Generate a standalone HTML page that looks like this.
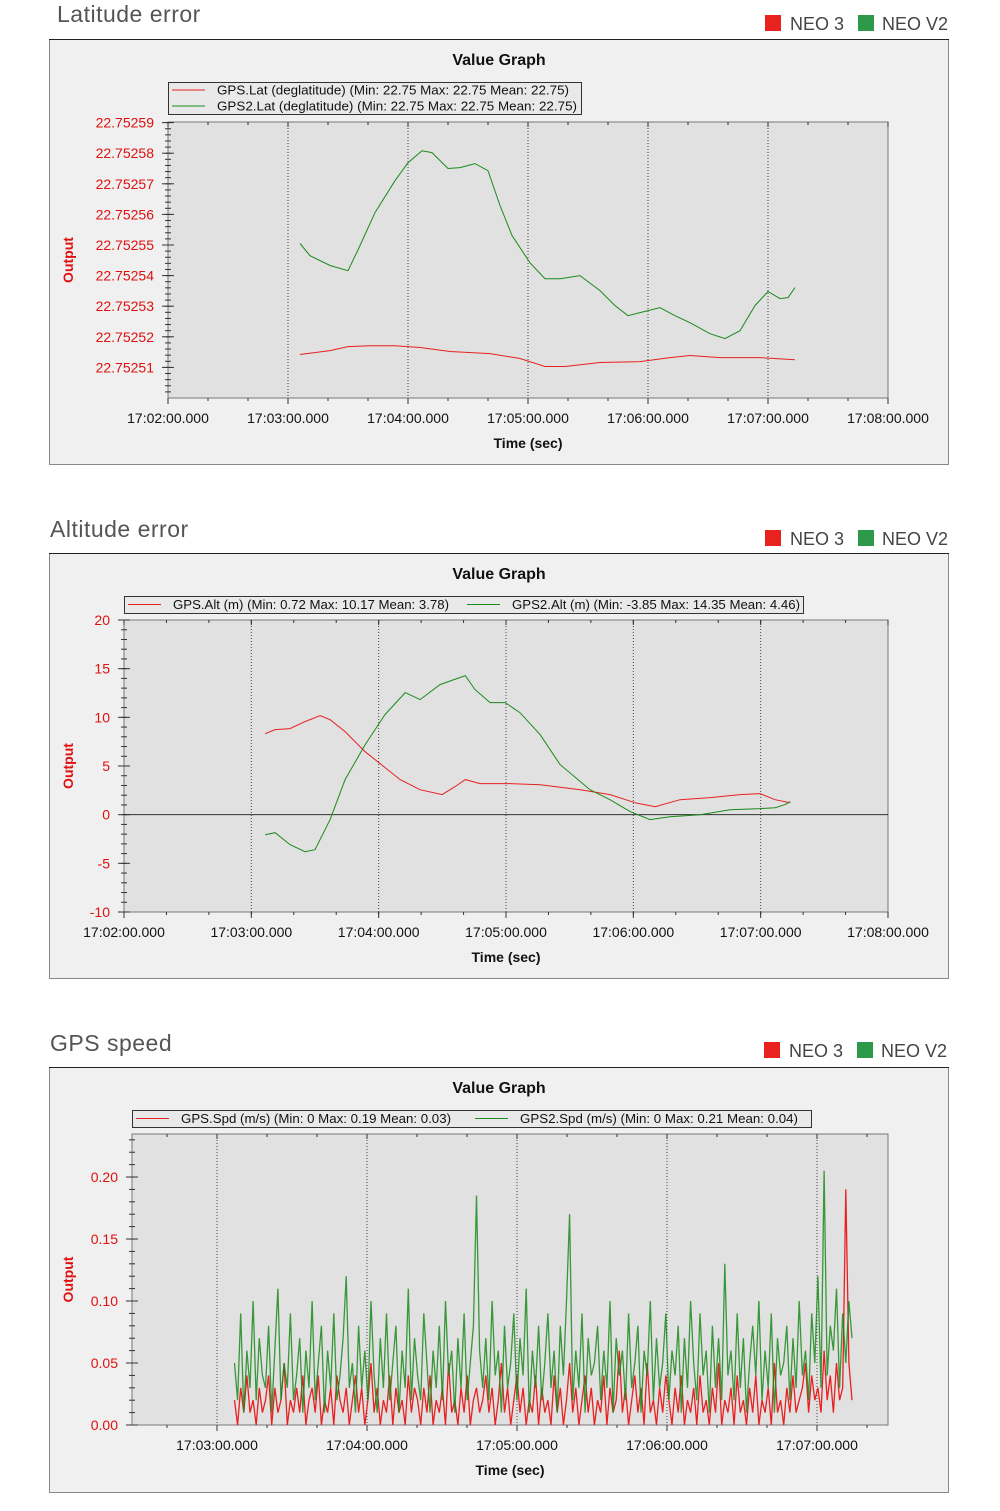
<!DOCTYPE html>
<html><head><meta charset="utf-8">
<style>
html,body{margin:0;padding:0;background:#fff;}
svg{display:block;font-family:"Liberation Sans",Arial,sans-serif;}
</style></head>
<body>
<svg id="root" width="1000" height="1511" viewBox="0 0 1000 1511" xmlns="http://www.w3.org/2000/svg"></svg>
<script>
// ---------- Latitude chart data (time = seconds after 17:02:00) ----------
const latGreenT=[66,71,81,90,96,103.5,113.5,120,127,132,140,146,153.5,160,166,172,181,188.5,196,206,216,223.5,230,236,246,253.5,261,271,278.5,286,293.5,300,306,310,313.5];
const latGreenV=[22.7525505,22.7525465,22.7525433,22.7525416,22.7525498,22.7525606,22.752571,22.7525769,22.7525808,22.7525802,22.752575,22.7525753,22.7525766,22.7525743,22.7525629,22.7525531,22.7525442,22.752539,22.752539,22.75254,22.7525351,22.7525302,22.7525269,22.7525279,22.7525295,22.7525269,22.7525246,22.752521,22.7525194,22.752522,22.7525302,22.7525348,22.7525325,22.7525328,22.7525361];
const latRedT=[66,81,90,101,113.5,126,141,161,176,188.5,198.5,216,236,251,261,276,296,313.5];
const latRedV=[22.7525142,22.7525155,22.7525168,22.7525171,22.7525171,22.7525165,22.7525152,22.7525145,22.7525129,22.7525103,22.7525103,22.7525116,22.7525119,22.7525132,22.7525139,22.7525132,22.7525132,22.7525125];
const latTicks=["22.75251","22.75252","22.75253","22.75254","22.75255","22.75256","22.75257","22.75258","22.75259"];
const latXTicks=["17:02:00.000","17:03:00.000","17:04:00.000","17:05:00.000","17:06:00.000","17:07:00.000","17:08:00.000"];

// ---------- Altitude chart data ----------
const altRedT=[66.5,71.2,78.2,85.3,92.4,97.1,104.2,113.6,120.7,130.1,139.5,149.9,156,160.8,167.8,181.9,196.1,215,229,240.8,250.3,262,276.2,290.3,299.7,306.8,313.9];
const altRedV=[8.32,8.74,8.84,9.56,10.17,9.76,8.53,6.47,5.24,3.6,2.57,2.06,2.88,3.6,3.19,3.19,3.08,2.57,2.06,1.23,0.82,1.54,1.75,2.06,2.16,1.54,1.23];
const altGreenT=[66.5,71.2,78.2,85.3,90,97.1,104.2,113.6,123,132.5,139.5,148.9,160.8,165.4,172.5,179.6,186.6,196.1,205.5,219.6,229,238.5,247.9,257.3,271.5,285.6,299.7,306.8,311.5,313.9];
const altGreenV=[-2.06,-1.85,-3.08,-3.8,-3.6,-0.51,3.6,7.19,10.28,12.54,11.82,13.36,14.29,12.85,11.51,11.51,10.48,8.22,5.14,2.57,1.54,0.31,-0.51,-0.21,0,0.51,0.62,0.72,1.03,1.34];
const altTicks=["-10","-5","0","5","10","15","20"];
const altXTicks=["17:02:00.000","17:03:00.000","17:04:00.000","17:05:00.000","17:06:00.000","17:07:00.000","17:08:00.000"];

// ---------- Speed chart data (samples from 17:03:07 to 17:07:14) ----------
const spdStart=67, spdEnd=314;
const spdGreen=[
.05,.02,.09,.01,.06,.03,.10,.02,.07,.04,.03,.08,.01,.06,.11,.02,.05,.03,.09,.02,
.04,.07,.01,.06,.03,.10,.02,.05,.08,.01,.06,.03,.09,.02,.04,.07,.12,.03,.05,.01,
.08,.03,.06,.02,.10,.04,.01,.07,.03,.09,.02,.05,.08,.01,.06,.03,.11,.02,.07,.04,
.02,.09,.05,.01,.06,.03,.08,.02,.10,.04,.06,.01,.07,.03,.09,.02,.05,.08,.185,.06,
.03,.07,.02,.10,.04,.06,.01,.08,.03,.05,.09,.02,.07,.04,.11,.01,.06,.03,.08,.02,
.05,.09,.03,.06,.01,.08,.04,.10,.17,.02,.06,.03,.09,.01,.07,.04,.05,.08,.02,.06,
.03,.10,.01,.07,.04,.06,.02,.09,.03,.05,.08,.01,.06,.04,.10,.02,.07,.03,.05,.09,
.02,.06,.04,.08,.01,.07,.03,.10,.05,.02,.09,.04,.06,.01,.08,.03,.07,.02,.13,.04,
.06,.02,.09,.03,.07,.01,.05,.08,.04,.10,.02,.06,.03,.09,.01,.07,.04,.05,.08,.02,
.07,.03,.10,.04,.06,.02,.09,.05,.12,.03,.205,.04,.08,.06,.11,.03,.09,.05,.10,.07];
const spdRed=[
.02,.00,.03,.01,.04,.01,.02,.00,.03,.01,.02,.04,.00,.03,.01,.02,.05,.00,.02,.01,
.03,.01,.04,.00,.02,.03,.01,.04,.00,.02,.01,.03,.00,.04,.02,.01,.03,.00,.02,.04,
.01,.03,.00,.02,.05,.01,.03,.00,.02,.01,.04,.00,.03,.01,.02,.00,.04,.01,.03,.02,
.00,.03,.01,.04,.00,.02,.01,.03,.00,.05,.01,.02,.00,.03,.01,.04,.00,.02,.03,.01,
.02,.04,.01,.03,.00,.02,.05,.01,.03,.00,.02,.04,.01,.03,.00,.02,.01,.04,.00,.03,
.01,.02,.00,.04,.01,.03,.00,.02,.05,.01,.03,.00,.02,.04,.01,.03,.00,.02,.01,.04,
.00,.03,.01,.02,.06,.01,.03,.00,.02,.04,.01,.03,.00,.05,.01,.02,.00,.03,.01,.04,
.02,.00,.03,.01,.04,.00,.02,.01,.03,.00,.04,.01,.02,.00,.03,.01,.05,.00,.02,.01,
.03,.00,.04,.01,.02,.00,.03,.01,.04,.00,.02,.01,.03,.00,.05,.01,.02,.00,.03,.01,
.04,.01,.02,.03,.05,.01,.04,.02,.03,.01,.06,.02,.04,.01,.05,.02,.03,.19,.05,.02];
const spdTicks=["0.00","0.05","0.10","0.15","0.20"];
const spdXTicks=["17:03:00.000","17:04:00.000","17:05:00.000","17:06:00.000","17:07:00.000"];

const NS="http://www.w3.org/2000/svg";
const root=document.getElementById('root');
function mk(tag,attrs,parent,text){const e=document.createElementNS(NS,tag);for(const k in attrs)e.setAttribute(k,attrs[k]);if(text!==undefined)e.textContent=text;(parent||root).appendChild(e);return e;}

function header(y0,title,nameKey){
  const t=mk('text',{x:y0.tx,y:y0.ty,'font-size':23,fill:'#555','letter-spacing':'0.5'},root,title);
  
  
  const g=mk('g',{});
  
  
  const r1=mk('rect',{x:y0.lx,y:y0.ly,width:16,height:16,fill:'#e8231f'},g);
  
  
  const t1=mk('text',{x:y0.lx+25,y:y0.ly+15,'font-size':18,fill:'#444'},g,'NEO 3');
  
  
  const r2=mk('rect',{x:y0.lx+93,y:y0.ly,width:16,height:16,fill:'#2d9a4a'},g);
  
  
  const t2=mk('text',{x:y0.lx+117,y:y0.ly+15,'font-size':18,fill:'#444'},g,'NEO V2');
  
  
}

function chart(c){
  const g=mk('g',{});
  
  
  const box=mk('rect',{x:49.5,y:c.by+0.5,width:899,height:425,fill:'#f0f0f0',stroke:'#888','stroke-width':1},g);
  
  
  mk('line',{x1:49,y1:c.by+0.5,x2:949,y2:c.by+0.5,stroke:'#222'},g);
  const vt=mk('text',{x:499,y:c.by+26,'font-size':16,'font-weight':'bold','text-anchor':'middle',fill:'#111'},g,'Value Graph');
  
  
  const L=c.px0,R=c.px1,T=c.py0,B=c.py1;
  const pa=mk('rect',{x:L,y:T,width:R-L,height:B-T,fill:'#e1e1e1',stroke:'#777','stroke-width':1},g);
  
  
  const X=t=>L+(t-c.t0)/(c.t1-c.t0)*(R-L);
  const Y=v=>B-(v-c.v0)/(c.v1-c.v0)*(B-T);
  c.xTicks.forEach((lab,i)=>{
    const t=c.xTick0+i*60,x=X(t);
    if(x>L+2&&x<R-2){const gl=mk('line',{x1:x,y1:T,x2:x,y2:B,stroke:'#444','stroke-dasharray':'1,2','stroke-width':1},g);
      }
    mk('line',{x1:x,y1:B,x2:x,y2:B+6,stroke:'#333'},g);
    mk('line',{x1:x,y1:T,x2:x,y2:T+5,stroke:'#333'},g);
    const tl=mk('text',{x:x,y:B+25,'font-size':14,'text-anchor':'middle',fill:'#111'},g,lab);
    
    
  });
  for(let t=Math.ceil(c.t0/20)*20;t<=c.t1;t+=20){const x=X(t);mk('line',{x1:x,y1:B,x2:x,y2:B+3,stroke:'#333'},g);mk('line',{x1:x,y1:T,x2:x,y2:T+3,stroke:'#333'},g);}
  c.yTicks.forEach((lab,i)=>{
    const v=c.yTick0+i*c.yStep,y=Y(v);
    mk('line',{x1:L-6,y1:y,x2:L+6,y2:y,stroke:'#333'},g);
    const yl=mk('text',{x:L-14,y:y+5,'font-size':14,'text-anchor':'end',fill:'#e01010'},g,lab);
    
    
  });
  const ms=c.yStep/c.minor;
  for(let v=c.yTick0-ms*Math.floor((c.yTick0-c.v0)/ms);v<=c.v1+1e-12;v+=ms){const y=Y(v);mk('line',{x1:L-3,y1:y,x2:L+3,y2:y,stroke:'#333'},g);}
  if(c.zero){const z=mk('line',{x1:L,y1:Y(0),x2:R,y2:Y(0),stroke:'#333','stroke-width':1},g);}
  c.series.forEach(s=>{
    const pts=s.t.map((t,i)=>X(t).toFixed(1)+','+Y(s.v[i]).toFixed(1)).join(' ');
    const p=mk('polyline',{points:pts,fill:'none',stroke:s.color,'stroke-width':s.w||1,'stroke-opacity':s.op||1},g);
    
    
  });
  const lg=mk('g',{},g);
  
  
  mk('rect',{x:c.lgx+0.5,y:c.lgy+0.5,width:c.lgw,height:c.lgh,fill:'#e9e9e9',stroke:'#333'},lg);
  c.legend.forEach(e=>{
    mk('line',{x1:e.x,y1:e.y,x2:e.x+33,y2:e.y,stroke:e.color},lg);
    const lt=mk('text',{x:e.x+45,y:e.y+4.5,'font-size':13,fill:'#111',textLength:e.w,lengthAdjust:'spacingAndGlyphs'},lg,e.text);
    
    
  });
  const yt=mk('text',{x:0,y:0,'font-size':14,'font-weight':'bold',fill:'#e01010','text-anchor':'middle',transform:`translate(${c.ylx},${(T+B)/2}) rotate(-90)`},g,'Output');
  
  
  const xt=mk('text',{x:(L+R)/2,y:B+50,'font-size':14,'font-weight':'bold','text-anchor':'middle',fill:'#111'},g,'Time (sec)');
  
  
}

header({tx:57,ty:22,lx:765,ly:15},'Latitude error','latitude');
chart({key:'latitude',by:39,px0:168,px1:888,py0:122,py1:398,t0:0,t1:360,v0:22.752500,v1:22.7525902,
  xTicks:latXTicks,xTick0:0,yTicks:latTicks,yTick0:22.75251,yStep:0.00001,minor:5,ylx:73,
  series:[{name:'gps-lat-line',t:latRedT,v:latRedV,color:'#e82020'},{name:'gps2-lat-line',t:latGreenT,v:latGreenV,color:'#1a8a1a'}],
  lgx:168,lgy:82,lgw:413,lgh:32,
  legend:[{x:172,y:90,color:'#e82020',text:'GPS.Lat (deglatitude) (Min: 22.75 Max: 22.75 Mean: 22.75)',w:352},
          {x:172,y:106,color:'#1a8a1a',text:'GPS2.Lat (deglatitude) (Min: 22.75 Max: 22.75 Mean: 22.75)',w:360}]});

header({tx:50,ty:537,lx:765,ly:530},'Altitude error','altitude');
chart({key:'altitude',by:553,px0:124,px1:888,py0:620,py1:912,t0:0,t1:360,v0:-10,v1:20,
  xTicks:altXTicks,xTick0:0,yTicks:altTicks,yTick0:-10,yStep:5,minor:5,ylx:73,zero:true,
  series:[{name:'gps-alt-line',t:altRedT,v:altRedV,color:'#e82020'},{name:'gps2-alt-line',t:altGreenT,v:altGreenV,color:'#1a8a1a'}],
  lgx:124,lgy:596,lgw:679,lgh:17,
  legend:[{x:128,y:604.5,color:'#e82020',text:'GPS.Alt (m) (Min: 0.72 Max: 10.17 Mean: 3.78)',w:276},
          {x:467,y:604.5,color:'#1a8a1a',text:'GPS2.Alt (m) (Min: -3.85 Max: 14.35 Mean: 4.46)',w:288}]});

header({tx:50,ty:1051,lx:764,ly:1042},'GPS speed','speed');
const spdGreenT=spdGreen.map((_,i)=>spdStart+i*(spdEnd-spdStart)/(spdGreen.length-1));
const spdRedT=spdRed.map((_,i)=>spdStart+i*(spdEnd-spdStart)/(spdRed.length-1));
chart({key:'speed',by:1067,px0:132,px1:888,py0:1134,py1:1425,t0:26,t1:328.4,v0:0,v1:0.2347,
  xTicks:spdXTicks,xTick0:60,yTicks:spdTicks,yTick0:0,yStep:0.05,minor:5,ylx:73,
  series:[{name:'gps-spd-line',t:spdRedT,v:spdRed,color:'#e82020',w:1.3},{name:'gps2-spd-line',t:spdGreenT,v:spdGreen,color:'#1a8a1a',w:1.3,op:0.85}],
  lgx:132,lgy:1110,lgw:679,lgh:17,
  legend:[{x:136,y:1118.5,color:'#e82020',text:'GPS.Spd (m/s) (Min: 0 Max: 0.19 Mean: 0.03)',w:270},
          {x:475,y:1118.5,color:'#1a8a1a',text:'GPS2.Spd (m/s) (Min: 0 Max: 0.21 Mean: 0.04)',w:278}]});
</script>
</body></html>
